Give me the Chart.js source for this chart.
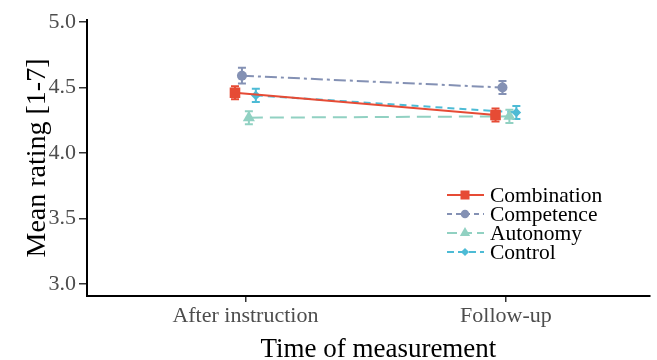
<!DOCTYPE html>
<html>
<head>
<meta charset="utf-8">
<script src="https://cdn.jsdelivr.net/npm/chart.js@4.4.0/dist/chart.umd.min.js"></script>
<style>
  html, body { margin: 0; padding: 0; background: #fff; }
  #wrap { width: 657px; height: 360px; }
</style>
</head>
<body>
<div id="wrap"><canvas id="c" width="657" height="360"></canvas></div>
<script>
// 数据
const categories = ['After instruction', 'Follow-up']
const seriesNames = ['Combination', 'Competence', 'Autonomy', 'Control']
const combination = [4.46, 4.29]
const competence = [4.59, 4.50]
const autonomy = [4.27, 4.28]
const control = [4.44, 4.31]
const combinationErr = [0.05, 0.05]
const competenceErr = [0.06, 0.05]
const autonomyErr = [0.05, 0.05]
const controlErr = [0.05, 0.05]
const yTicks = [3.0, 3.5, 4.0, 4.5, 5.0]

const COLORS = ['#E64B35', '#8491B4', '#91D1C2', '#4DBBD5']
const DASHES = [[], [12, 4, 3, 4], [14, 7], [7, 5]]
const LEGEND_DASHES = [[], [5, 4], [10, 5], [7, 4]]
const POINTS = ['rect', 'circle', 'triangle', 'rectRot']
const RADIUS = [7.5, 5, 7, 4.8]
const DODGE = [-0.04, -0.0133, 0.0133, 0.04]
const SERIF = "'Liberation Serif', 'DejaVu Serif', serif"

const values = [combination, competence, autonomy, control]
const errors = [combinationErr, competenceErr, autonomyErr, controlErr]

const datasets = values.map((vals, i) => {
  return {
    label: seriesNames[i],
    data: vals.map((v, k) => ({ x: k + 1 + DODGE[i], y: v })),
    err: errors[i],
    borderColor: COLORS[i],
    backgroundColor: COLORS[i],
    borderWidth: 2,
    borderDash: DASHES[i],
    pointStyle: POINTS[i],
    pointRadius: RADIUS[i],
    pointBorderWidth: 0,
    fill: false,
    tension: 0
  }
})

// 误差线
const errorBars = {
  id: 'errorBars',
  beforeDatasetsDraw(chart) {
    const { ctx, scales } = chart
    ctx.save()
    chart.data.datasets.forEach(ds => {
      ctx.strokeStyle = ds.borderColor
      ctx.lineWidth = 2
      ctx.setLineDash([])
      ds.data.forEach((p, k) => {
        const x = scales.x.getPixelForValue(p.x)
        const y1 = scales.y.getPixelForValue(p.y - ds.err[k])
        const y2 = scales.y.getPixelForValue(p.y + ds.err[k])
        ctx.beginPath()
        ctx.moveTo(x, y1); ctx.lineTo(x, y2)
        ctx.moveTo(x - 4, y1); ctx.lineTo(x + 4, y1)
        ctx.moveTo(x - 4, y2); ctx.lineTo(x + 4, y2)
        ctx.stroke()
      })
    })
    ctx.restore()
  }
}

// 图例（线 + 标记）
const lineLegend = {
  id: 'lineLegend',
  afterDraw(chart) {
    const { ctx } = chart
    const x0 = 447
    const y0 = 195
    const rowH = 19
    ctx.save()
    ctx.font = '21.5px ' + SERIF
    ctx.textBaseline = 'middle'
    chart.data.datasets.forEach((ds, i) => {
      const y = y0 + i * rowH
      ctx.strokeStyle = ds.borderColor
      ctx.lineWidth = 2
      ctx.setLineDash(LEGEND_DASHES[i])
      ctx.beginPath()
      ctx.moveTo(x0, y); ctx.lineTo(x0 + 37, y)
      ctx.stroke()
      ctx.setLineDash([])
      ctx.fillStyle = ds.backgroundColor
      Chart.helpers.drawPoint(ctx, { pointStyle: ds.pointStyle, radius: ds.pointRadius * 0.85, borderWidth: 0 }, x0 + 18, y)
      ctx.fillStyle = '#000'
      ctx.fillText(ds.label, x0 + 43, y + 1)
    })
    ctx.restore()
  }
}

const config = {
  type: 'line',
  data: { datasets: datasets },
  options: {
    responsive: false,
    animation: false,
    layout: { padding: { top: 20, right: 2, left: 0, bottom: 0 } },
    plugins: {
      legend: { display: false },
      tooltip: { enabled: false }
    },
    scales: {
      x: {
        type: 'linear',
        min: 0.392,
        max: 2.551,
        afterBuildTicks: axis => {
          axis.ticks = categories.map((c, k) => ({ value: k + 1 }))
        },
        afterFit: axis => { axis.height = 64 },
        ticks: {
          callback: v => categories[v - 1],
          color: '#4d4d4d',
          font: { family: SERIF, size: 22 },
          padding: 1,
          maxRotation: 0
        },
        grid: { drawOnChartArea: false, drawTicks: true, tickLength: 6, color: '#333', lineWidth: 1.5 },
        border: { color: '#000', width: 2 },
        title: {
          display: true,
          text: '   Time of measurement',
          color: '#000',
          font: { family: SERIF, size: 27 },
          padding: { top: 0, bottom: -6 }
        }
      },
      y: {
        type: 'linear',
        min: 2.91,
        max: 5.015,
        afterBuildTicks: axis => {
          axis.ticks = yTicks.map(v => ({ value: v }))
        },
        afterFit: axis => { axis.width = 87 },
        ticks: {
          callback: v => v.toFixed(1),
          color: '#4d4d4d',
          font: { family: SERIF, size: 22 },
          padding: 3
        },
        grid: { drawOnChartArea: false, drawTicks: true, tickLength: 8, color: '#333', lineWidth: 1.5 },
        border: { color: '#000', width: 2 },
        title: {
          display: true,
          text: 'Mean rating [1-7]',
          color: '#000',
          font: { family: SERIF, size: 28 },
          padding: { top: 21, bottom: 0 }
        }
      }
    }
  },
  plugins: [errorBars, lineLegend]
}

new Chart(document.getElementById('c').getContext('2d'), config)
</script>
</body>
</html>
